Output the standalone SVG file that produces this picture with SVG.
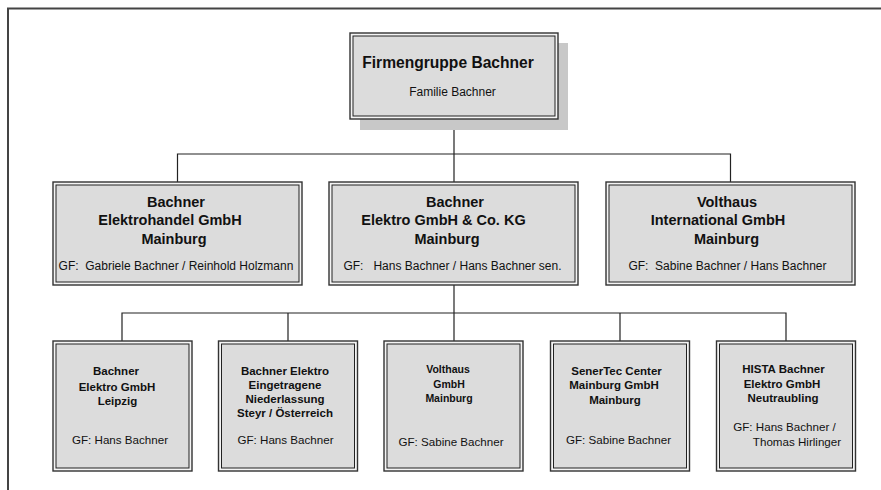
<svg xmlns="http://www.w3.org/2000/svg" width="881" height="490" viewBox="0 0 881 490">
<style>
.outer{fill:#f4f4f4;stroke:#333;stroke-width:1.4}
.inner{fill:#dcdcdc;stroke:#222;stroke-width:1}
.conn{stroke:#222;stroke-width:1.2;fill:none}
text{font-family:"Liberation Sans",Arial,sans-serif;fill:#111;text-anchor:middle;white-space:pre}
.t1{font-size:15.6px;font-weight:bold}
.t2{font-size:14.5px;font-weight:bold}
.t3{font-size:11.5px;font-weight:bold}
.t3s{font-size:10.5px;font-weight:bold}
.g2{font-size:12px}
.g3{font-size:11.6px}
</style>
<rect width="881" height="490" fill="#fff"/>
<path d="M8 490 V8.5 H881" fill="none" stroke="#444" stroke-width="2"/>
<g id="connectors">
<path class="conn" d="M454 119 V154 M177.5 182 V154 H730.5 V182 M454 154 V182" stroke-width="1.4"/>
<path class="conn" d="M454 285 V313" stroke-width="1.8"/>
<path class="conn" d="M122 341 V313 H786 V341 M288 313 V341 M454 313 V341 M620 313 V341"/>
</g>
<g id="n0">
<rect x="360" y="43" width="208" height="87" fill="#c8c8c8"/>
<rect class="outer" x="350" y="33" width="208" height="86"/>
<rect class="inner" x="353" y="36" width="202" height="80"/>
<text class="t1" x="448" y="68">Firmengruppe Bachner</text>
<text class="g2" x="452.5" y="96">Familie Bachner</text>
</g>
<g id="n1">
<rect class="outer" x="53" y="182" width="249" height="103"/>
<rect class="inner" x="56" y="185" width="243" height="97"/>
<text class="t2" x="176" y="207">Bachner</text>
<text class="t2" x="170" y="225">Elektrohandel GmbH</text>
<text class="t2" x="174" y="243.5">Mainburg</text>
<text class="g2" x="176" y="270" xml:space="preserve">GF:  Gabriele Bachner / Reinhold Holzmann</text>
</g>
<g id="n2">
<rect class="outer" x="329" y="182" width="249" height="103"/>
<rect class="inner" x="332" y="185" width="243" height="97"/>
<text class="t2" x="455" y="207">Bachner</text>
<text class="t2" x="443.5" y="225">Elektro GmbH &amp; Co. KG</text>
<text class="t2" x="447" y="243.5">Mainburg</text>
<text class="g2" x="452.5" y="270" xml:space="preserve">GF:   Hans Bachner / Hans Bachner sen.</text>
</g>
<g id="n3">
<rect class="outer" x="606" y="182" width="249" height="103"/>
<rect class="inner" x="609" y="185" width="243" height="97"/>
<text class="t2" x="727" y="207">Volthaus</text>
<text class="t2" x="718" y="225">International GmbH</text>
<text class="t2" x="726.5" y="243.5">Mainburg</text>
<text class="g2" x="727.5" y="270" xml:space="preserve">GF:  Sabine Bachner / Hans Bachner</text>
</g>
<g id="n4">
<rect class="outer" x="53" y="341" width="139" height="130"/>
<rect class="inner" x="56" y="344" width="133" height="124"/>
<text class="t3" x="116" y="375">Bachner</text>
<text class="t3" x="117" y="390.5">Elektro GmbH</text>
<text class="t3" x="117.5" y="404.5">Leipzig</text>
<text class="g3" x="120" y="443.5">GF: Hans Bachner</text>
</g>
<g id="n5">
<rect class="outer" x="218.5" y="341" width="139" height="130"/>
<rect class="inner" x="221.5" y="344" width="133" height="124"/>
<text class="t3" x="285" y="375">Bachner Elektro</text>
<text class="t3" x="285" y="389">Eingetragene</text>
<text class="t3" x="285" y="403">Niederlassung</text>
<text class="t3" x="285" y="417">Steyr / Österreich</text>
<text class="g3" x="285.5" y="443.5">GF: Hans Bachner</text>
</g>
<g id="n6">
<rect class="outer" x="384" y="341" width="139" height="130"/>
<rect class="inner" x="387" y="344" width="133" height="124"/>
<text class="t3s" x="448" y="372.5">Volthaus</text>
<text class="t3s" x="449" y="387.5">GmbH</text>
<text class="t3s" x="449" y="401.5">Mainburg</text>
<text class="g3" x="451" y="445.5">GF: Sabine Bachner</text>
</g>
<g id="n7">
<rect class="outer" x="550.5" y="341" width="139" height="130"/>
<rect class="inner" x="553.5" y="344" width="133" height="124"/>
<text class="t3" x="616.5" y="375">SenerTec Center</text>
<text class="t3" x="614" y="389">Mainburg GmbH</text>
<text class="t3" x="615" y="403.5">Mainburg</text>
<text class="g3" x="618.5" y="444">GF: Sabine Bachner</text>
</g>
<g id="n8">
<rect class="outer" x="716.5" y="341" width="139" height="130"/>
<rect class="inner" x="719.5" y="344" width="133" height="124"/>
<text class="t3" x="783.5" y="373">HISTA Bachner</text>
<text class="t3" x="782" y="388">Elektro GmbH</text>
<text class="t3" x="783" y="402">Neutraubling</text>
<text class="g3" x="784.5" y="431">GF: Hans Bachner /</text>
<text class="g3" x="797" y="445.5">Thomas Hirlinger</text>
</g>
</svg>
